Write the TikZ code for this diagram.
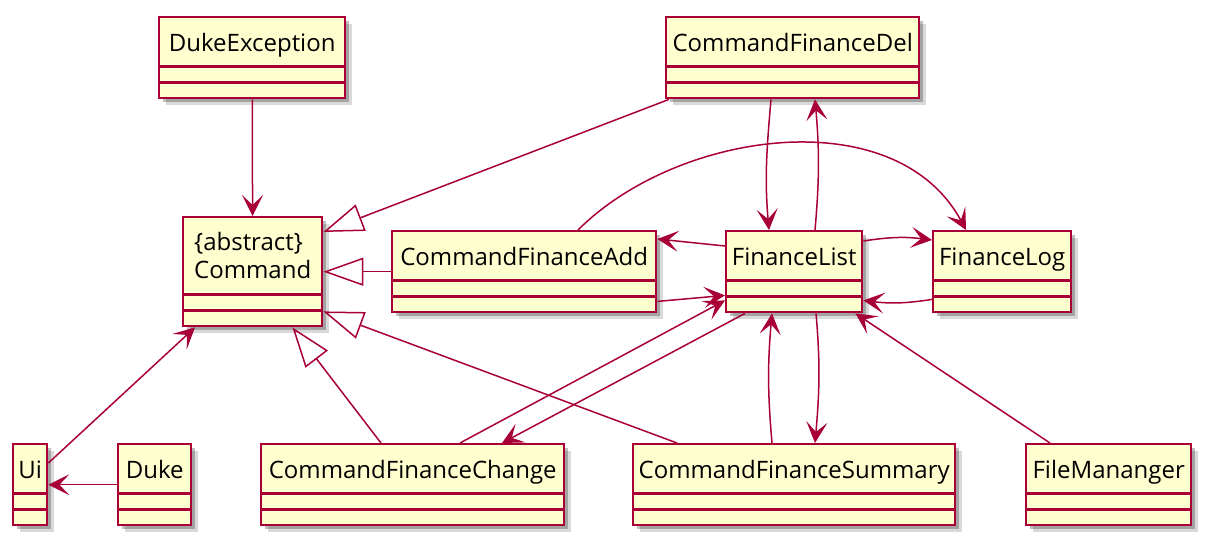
\documentclass[tikz,border=0pt]{standalone}
\usepackage{fontspec}
\setmainfont{Open Sans}
\usetikzlibrary{arrows.meta,shadows}
\definecolor{umlred}{HTML}{A80036}
\definecolor{umlfill}{HTML}{FEFECE}
\tikzset{
  umlclass/.style={draw=umlred, fill=umlfill, line width=2.4pt, anchor=north west,
    inner ysep=0pt, text height=34pt, text depth=47pt, font=\fontsize{24}{28}\selectfont,
    drop shadow={shadow xshift=7pt, shadow yshift=-7pt, opacity=0.15, fill=black},
    drop shadow={shadow xshift=4pt, shadow yshift=-4pt, opacity=0.25, fill=black}},
  assoc/.style={draw=umlred, line width=1.5pt, -{Stealth[length=21pt, width=21pt, inset=10pt]}},
  extends/.style={draw=umlred, line width=1.5pt, -{Triangle[open, length=40pt, width=28pt]}}
}
\begin{document}
\begin{tikzpicture}[x=1pt, y=-1pt]
        \useasboundingbox (0,0) rectangle (1209,544);

        \node[umlclass, minimum width=186pt] (dukeexc) at (158,16) {DukeException};
        \node[umlclass, minimum width=253pt] (cmddel) at (665,16) {CommandFinanceDel};
        \node[umlclass, minimum width=139pt, text height=61pt, text depth=48pt, align=left] (command) at (182,216) {\{abstract\}\\Command};
        \node[umlclass, minimum width=264pt] (cmdadd) at (391,230) {CommandFinanceAdd};
        \node[umlclass, minimum width=136pt] (flist) at (725,230) {FinanceList};
        \node[umlclass, minimum width=138pt] (flog) at (932,230) {FinanceLog};
        \node[umlclass, minimum width=34pt] (ui) at (12,443) {Ui};
        \node[umlclass, minimum width=73pt] (duke) at (117,443) {Duke};
        \node[umlclass, minimum width=303pt] (cmdchange) at (260,443) {CommandFinanceChange};
        \node[umlclass, minimum width=322pt] (cmdsummary) at (632,443) {CommandFinanceSummary};
        \node[umlclass, minimum width=165pt] (filemgr) at (1025,443) {FileMananger};

        \foreach \n in {dukeexc, cmddel, command, cmdadd, flist, flog, ui, duke, cmdchange, cmdsummary, filemgr} {
            \draw[umlred, line width=2.4pt] ([yshift=33pt]\n.south west) -- ([yshift=33pt]\n.south east);
            \draw[umlred, line width=2.4pt] ([yshift=17pt]\n.south west) -- ([yshift=17pt]\n.south east);
        }

        \draw[assoc] (dukeexc) -- (command);
        \draw[extends] ([xshift=4pt]cmddel.south west) -- ([yshift=-16pt]command.north east);
        \draw[extends] (cmdadd) -- (command);
        \draw[extends] ([xshift=121pt]cmdchange.north west) -- ([xshift=-31pt]command.south east);
        \draw[extends] ([xshift=45pt]cmdsummary.north west) -- ([yshift=16pt]command.south east);
        \draw[assoc] ([yshift=-20pt]ui.north east) -- ([xshift=13pt]command.south west);
        \draw[assoc] (duke) -- (ui);

        \draw[assoc] ([xshift=106pt]cmddel.south west) to[out=-95, in=95] ([xshift=44pt]flist.north west);
        \draw[assoc] ([xshift=90pt]flist.north west) to[out=85, in=-85] ([xshift=150pt]cmddel.south west);
        \draw[assoc] ([xshift=187pt]cmdadd.north west) .. controls +(100,-100) and +(-70,-130) .. ([xshift=34pt]flog.north west);
        \draw[assoc] ([yshift=-16pt]flist.north west) -- ([yshift=-9pt]cmdadd.north east);
        \draw[assoc] ([yshift=12pt]cmdadd.south east) -- ([yshift=18pt]flist.south west);
        \draw[assoc] ([yshift=-11pt]flist.north east) to[bend left=8] ([yshift=-10pt]flog.north west);
        \draw[assoc] ([yshift=14pt]flog.south west) to[bend left=8] ([yshift=13pt]flist.south east);
        \draw[assoc] ([xshift=200pt]cmdchange.north west) -- ([yshift=13pt]flist.south west);
        \draw[assoc] ([xshift=20pt]flist.south west) -- ([xshift=242pt]cmdchange.north west);
        \draw[assoc] ([xshift=140pt]cmdsummary.north west) to[out=95, in=-95] ([xshift=47pt]flist.south west);
        \draw[assoc] ([xshift=91pt]flist.south west) to[out=-85, in=85] ([xshift=183pt]cmdsummary.north west);
        \draw[assoc] ([xshift=25pt]filemgr.north west) -- ([xshift=-8pt]flist.south east);
    \end{tikzpicture}
\end{document}
